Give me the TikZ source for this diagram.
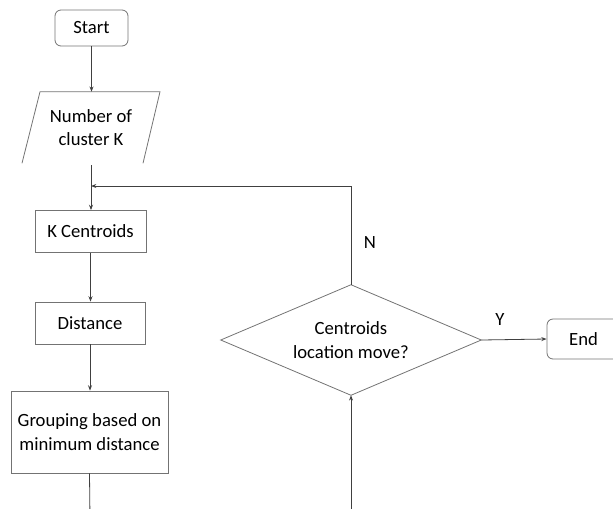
\documentclass[tikz,border=0pt]{standalone}
\usepackage{fontspec}
\setmainfont{Carlito}
\usetikzlibrary{arrows.meta, calc}

\begin{document}
\begin{tikzpicture}[x=0.75pt, y=-0.75pt, >={Stealth[length=4pt,width=3pt]},
  every node/.style={font=\fontsize{14}{17.5}\selectfont, align=center, text=black},
  box/.style={draw=black!55, line width=0.6pt, inner sep=0pt},
  term/.style={box, rounded corners=4.5pt, minimum width=54.75pt, minimum height=27pt},
  flow/.style={->, draw=black!75, line width=0.6pt}]

\useasboundingbox (0,0) rectangle (613,508);
\clip (0,0) rectangle (613,508);

\node[term] (start) at (91.5,28) {Start};
\node[minimum width=90pt, minimum height=53.25pt, inner sep=0pt] (input) at (91,127.5) {Number of\\cluster K};
\draw[box] ($(input.south)+(-69,0)$) -- ($(input.north)+(-51,0)$) -- ($(input.north)+(69,0)$) -- ($(input.south)+(52,0)$);
\node[box, minimum width=83.25pt, minimum height=31.5pt] (kcent) at (90.5,231.5) {K Centroids};
\node[box, minimum width=82.5pt, minimum height=31.5pt] (dist) at (90,323) {Distance};
\node[box, minimum width=117.75pt, minimum height=61.5pt] (group) at (89.5,432) {Grouping based on\\minimum distance};
\node[minimum width=195pt, minimum height=82.5pt, inner sep=0pt] (dec) at (351,340) {Centroids\\location move?};
\draw[box] (dec.north) -- (dec.east) -- (dec.south) -- (dec.west) -- cycle;
\node[term, minimum height=30pt] (end) at (583.5,339) {End};

\coordinate (back) at (91,186);
\coordinate (gout) at (90,520);
\coordinate (din) at (351,520);

\draw[flow] (start) -- (input.north -| start);
\draw[flow] ($(input.south)+(0,2)$) -- (kcent.north -| back);
\draw[flow] (dec.north) |- (back);
\draw[flow] (kcent) -- (dist.north -| kcent);
\draw[flow] (dist) -- (group.north -| dist);
\draw[draw=black!75, line width=0.6pt] (group.south) -- (gout);
\draw[flow] (din) -- (dec.south);
\draw[flow] (dec.east) -- (end.west);

\node (n) at (370,243) {N};
\node (y) at (500,320) {Y};

\end{tikzpicture}
\end{document}
